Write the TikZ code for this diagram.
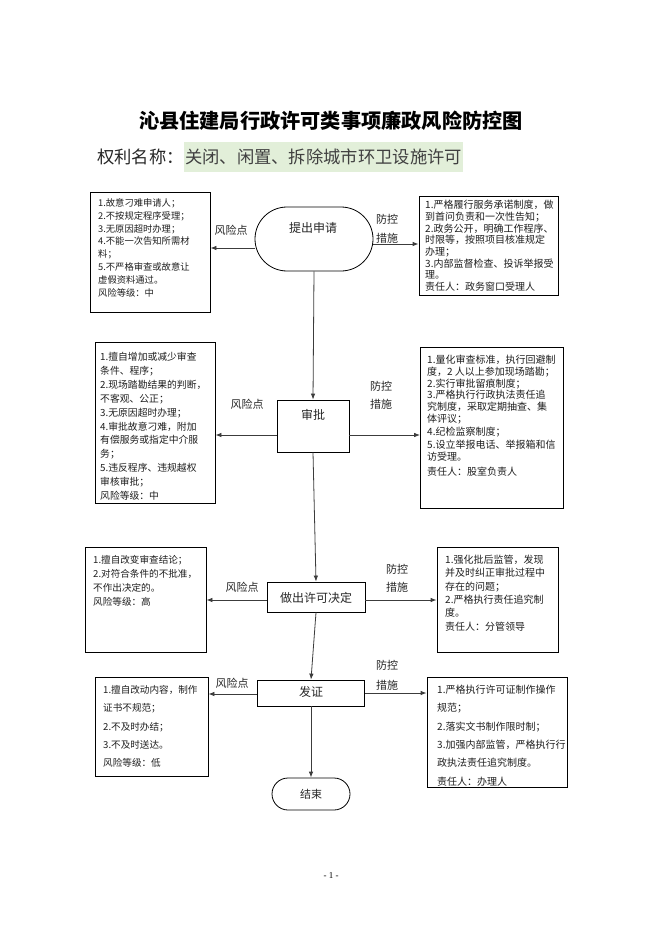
\documentclass[tikz,border=0pt]{standalone}
\usepackage{fontspec}
\setmainfont{Liberation Serif}
\newfontfamily\cjk{Noto Sans CJK SC}
\usetikzlibrary{arrows.meta}
\definecolor{hl}{RGB}{226,239,217}
\definecolor{ln}{RGB}{60,60,60}
\tikzset{
  rbox/.style={draw=black, line width=0.8pt, inner sep=0pt},
  flowbox/.style={draw=black, line width=0.8pt, inner sep=0pt, font=\cjk\fontsize{12}{14}\selectfont},
  stadium/.style={draw=black, line width=0.8pt, inner sep=0pt, font=\cjk\fontsize{12}{14}\selectfont},
  btxt/.style={anchor=north west, inner sep=0pt, align=left, text=black!88},
  lbl/.style={inner sep=0pt, font=\cjk\fontsize{11}{13}\selectfont, text=black!85},
  arr/.style={draw=ln, line width=0.8pt, -{Latex[length=6pt,width=4.5pt]}},
  plain/.style={draw=ln, line width=0.8pt}
}
\begin{document}
\begin{tikzpicture}[x=1pt,y=-1pt]
\useasboundingbox[fill=white] (0,0) rectangle (662,936);

% title
\node[inner sep=0pt, font=\cjk\bfseries\fontsize{20.2}{23}\selectfont] (title) at (331,121) {沁县住建局行政许可类事项廉政风险防控图};
\node[inner sep=0pt, anchor=west, font=\cjk\fontsize{17.3}{20}\selectfont, text=black!85] (sub1) at (97,157) {权利名称：};
\node[anchor=west, fill=hl, inner xsep=1pt, minimum height=30pt, font=\cjk\fontsize{17.3}{20}\selectfont, text=black!75] (sub2) at (sub1.east) {关闭、闲置、拆除城市环卫设施许可};

% ---------- row 1 ----------
\node[stadium, minimum width=118pt, minimum height=64pt, rounded corners=32pt] (p1) at (314,239) {};
\node[lbl, font=\cjk\fontsize{12}{14}\selectfont] (p1t) at (313,228) {提出申请};
\node[rbox, minimum width=120pt, minimum height=120pt] (L1) at (150,252.5) {};
\node[btxt, font=\cjk\fontsize{9.3}{12.8}\selectfont] (L1t) at (98,198.4) {1.故意刁难申请人；\\2.不按规定程序受理；\\3.无原因超时办理；\\4.不能一次告知所需材\\料；\\5.不严格审查或故意让\\虚假资料通过。\\风险等级：中};
\node[rbox, minimum width=139pt, minimum height=99pt] (R1) at (488.5,245.5) {};
\node[btxt, font=\cjk\fontsize{10}{11.7}\selectfont] (R1t) at (425,200) {1.严格履行服务承诺制度，做\\到首问负责和一次性告知；\\2.政务公开，明确工作程序、\\时限等，按照项目核准规定\\办理；\\3.内部监督检查、投诉举报受\\理。\\责任人：政务窗口受理人};
\node[lbl] (k1) at (231,230) {风险点};
\node[lbl] (f1a) at (387,219) {防控};
\node[lbl] (f1b) at (387,238) {措施};
\draw[arr] ([yshift=-9pt]p1.west) -- ([yshift=-9pt]p1.west -| L1.east);
\draw[arr] ([yshift=-5pt]p1.east) -- ([yshift=-5pt]p1.east -| R1.west);

% ---------- row 2 ----------
\node[flowbox, minimum width=72pt, minimum height=52pt] (p2) at (313,426) {};
\node[lbl, font=\cjk\fontsize{12}{14}\selectfont] (p2t) at (313,415) {审批};
\node[rbox, minimum width=120pt, minimum height=161pt] (L2) at (155,422.5) {};
\node[btxt, font=\cjk\fontsize{9.8}{13.9}\selectfont] (L2t) at (100,352) {1.擅自增加或减少审查\\条件、程序；\\2.现场踏勘结果的判断，\\不客观、公正；\\3.无原因超时办理；\\4.审批故意刁难，附加\\有偿服务或指定中介服\\务；\\5.违反程序、违规越权\\审核审批；\\风险等级：中};
\node[rbox, minimum width=143pt, minimum height=161pt] (R2) at (492,427.5) {};
\node[btxt, font=\cjk\fontsize{10}{11.7}\selectfont] (R2t) at (427,355) {1.量化审查标准，执行回避制\\度，2 人以上参加现场踏勘；\\2.实行审批留痕制度；\\3.严格执行行政执法责任追\\究制度，采取定期抽查、集\\体评议；\\[1.6pt]4.纪检监察制度；\\[1.6pt]5.设立举报电话、举报箱和信\\访受理。\\[3.3pt]责任人：股室负责人};
\node[lbl] (k2) at (247,404) {风险点};
\node[lbl] (f2a) at (381,386) {防控};
\node[lbl] (f2b) at (381,404) {措施};
\draw[arr] (p1.south) -- (p2.north);
\draw[arr] ([yshift=-9pt]p2.west) -- ([yshift=-9pt]p2.west -| L2.east);
\draw[arr] ([yshift=-9pt]p2.east) -- ([yshift=-9pt]p2.east -| R2.west);

% ---------- row 3 ----------
\node[flowbox, minimum width=98pt, minimum height=30pt] (p3) at (316,597) {};
\node[lbl, font=\cjk\fontsize{12}{14}\selectfont] (p3t) at (316,598) {做出许可决定};
\node[rbox, minimum width=121pt, minimum height=105pt] (L3) at (145.5,599.5) {};
\node[btxt, font=\cjk\fontsize{9.6}{14}\selectfont] (L3t) at (93,555.2) {1.擅自改变审查结论；\\2.对符合条件的不批准，\\不作出决定的。\\风险等级：高};
\node[rbox, minimum width=121pt, minimum height=105pt] (R3) at (497.5,599.5) {};
\node[btxt, font=\cjk\fontsize{10}{13.3}\selectfont] (R3t) at (445,555) {1.强化批后监管，发现\\并及时纠正审批过程中\\存在的问题；\\2.严格执行责任追究制\\度。\\责任人：分管领导};
\node[lbl] (k3) at (242,587) {风险点};
\node[lbl] (f3a) at (397,569) {防控};
\node[lbl] (f3b) at (397,587) {措施};
\draw[arr] (p2.south) -- (p3.north);
\draw[arr] ([yshift=-3pt]p3.west) -- ([yshift=-3pt]p3.west -| L3.east);
\draw[arr] ([yshift=-3pt]p3.east) -- ([yshift=-3pt]p3.east -| R3.west);

% ---------- row 4 ----------
\node[flowbox, minimum width=107pt, minimum height=26pt] (p4) at (311,693) {};
\node[lbl, font=\cjk\fontsize{12}{14}\selectfont] (p4t) at (311,692) {发证};
\node[rbox, minimum width=113pt, minimum height=99pt] (L4) at (151.5,726.5) {};
\node[btxt, font=\cjk\fontsize{9.6}{18.3}\selectfont] (L4t) at (103,685.2) {1.擅自改动内容，制作\\证书不规范；\\2.不及时办结；\\3.不及时送达。\\风险等级：低};
\node[rbox, minimum width=140pt, minimum height=110pt] (R4) at (497,732) {};
\node[btxt, font=\cjk\fontsize{10}{18.3}\selectfont] (R4t) at (437,685) {1.严格执行许可证制作操作\\规范；\\2.落实文书制作限时制；\\3.加强内部监管，严格执行行\\政执法责任追究制度。\\责任人：办理人};
\node[lbl] (k4) at (232,683) {风险点};
\node[lbl] (f4a) at (387,665) {防控};
\node[lbl] (f4b) at (387,685) {措施};
\draw[arr] (p3.south) -- (p4.north);
\draw[arr] ([yshift=-1pt]p4.west) -- ([yshift=-1pt]p4.west -| L4.east);
\draw[arr] (p4.east) -- (p4.east -| R4.west);

% ---------- end ----------
\node[stadium, minimum width=78pt, minimum height=32pt, rounded corners=16pt] (p5) at (311,794) {};
\node[lbl, font=\cjk\fontsize{11}{13}\selectfont] (p5t) at (311,794) {结束};
\draw[arr] (p4.south) -- (p5.north);

% page number
\node[inner sep=0pt, font=\fontsize{9}{10}\selectfont] (pg) at (331,876) {- 1 -};
\end{tikzpicture}
\end{document}
